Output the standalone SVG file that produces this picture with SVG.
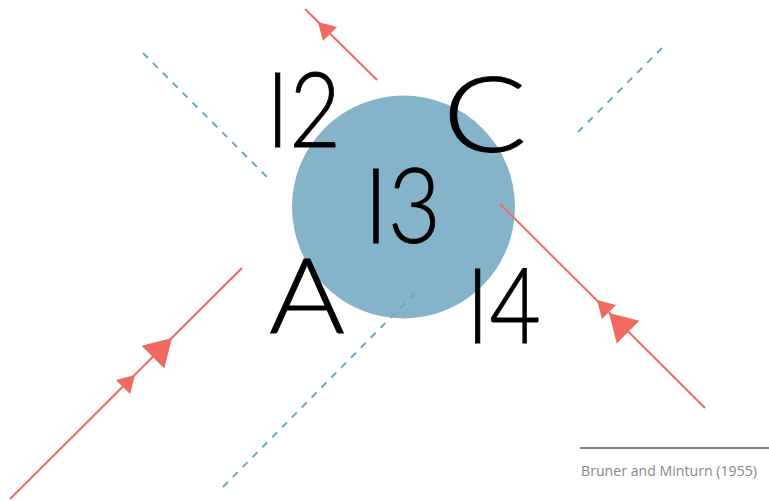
<svg xmlns="http://www.w3.org/2000/svg" xmlns:xlink="http://www.w3.org/1999/xlink" width="769" height="501" viewBox="0 0 769 501">
<style>
.dash{stroke:#6fa6c4;stroke-width:2;stroke-dasharray:7 7;fill:none}
.ray{stroke:#f06a62;stroke-width:2;fill:none}
.head{fill:#f06a62}
.lbl{font-family:Lato,"Noto Sans",sans-serif;font-weight:300;font-size:104px;fill:#000;stroke:#000;stroke-width:0.8}
.cap{font-family:"Open Sans","Noto Sans",sans-serif;font-size:14px;fill:#888}
</style>
<defs>
<polygon id="hs" points="0,0 -17,-10 -17,10"/>
<polygon id="hl" points="0,0 -27,-16 -27,16"/>
</defs>
<rect width="769" height="501" fill="#fff"/>
<g id="connectors">
<line class="dash" x1="143" y1="53" x2="268" y2="178"/>
<line class="dash" x1="662" y1="48" x2="575" y2="135"/>
</g>
<g id="circle"><circle cx="403.5" cy="207" r="111.5" fill="#85b3ca"/></g>
<g id="connectors-front">
<line class="dash" x1="415" y1="293" x2="220" y2="490"/>
</g>
<g id="rays">
<line class="ray" x1="305" y1="9" x2="377" y2="80"/>
<use xlink:href="#hs" class="head" transform="translate(318,22) rotate(-135)"/>
<line class="ray" x1="10" y1="499" x2="242" y2="268"/>
<use xlink:href="#hs" class="head" transform="translate(135,375) rotate(-45)"/>
<use xlink:href="#hl" class="head" transform="translate(172,338) rotate(-45)"/>
<line class="ray" x1="500" y1="204" x2="705" y2="408"/>
<use xlink:href="#hs" class="head" transform="translate(597,300) rotate(-135)"/>
<use xlink:href="#hl" class="head" transform="translate(609,313) rotate(-135)"/>
</g>
<g id="label-I2"><text class="lbl" x="266" y="147" textLength="75" lengthAdjust="spacingAndGlyphs">I2</text></g>
<g id="label-C"><text class="lbl" x="443" y="152" textLength="84" lengthAdjust="spacingAndGlyphs">C</text></g>
<g id="label-I3"><text class="lbl" x="364" y="243" textLength="77" lengthAdjust="spacingAndGlyphs">I3</text></g>
<g id="label-A"><text class="lbl" x="269" y="333" textLength="76" lengthAdjust="spacingAndGlyphs">A</text></g>
<g id="label-I4"><text class="lbl" x="466" y="343" textLength="75" lengthAdjust="spacingAndGlyphs">I4</text></g>
<g id="caption">
<line x1="580" y1="448" x2="769" y2="448" stroke="#555" stroke-width="1.5"/>
<text class="cap" x="581" y="476" textLength="176" lengthAdjust="spacingAndGlyphs">Bruner and Minturn (1955)</text>
</g>
</svg>
